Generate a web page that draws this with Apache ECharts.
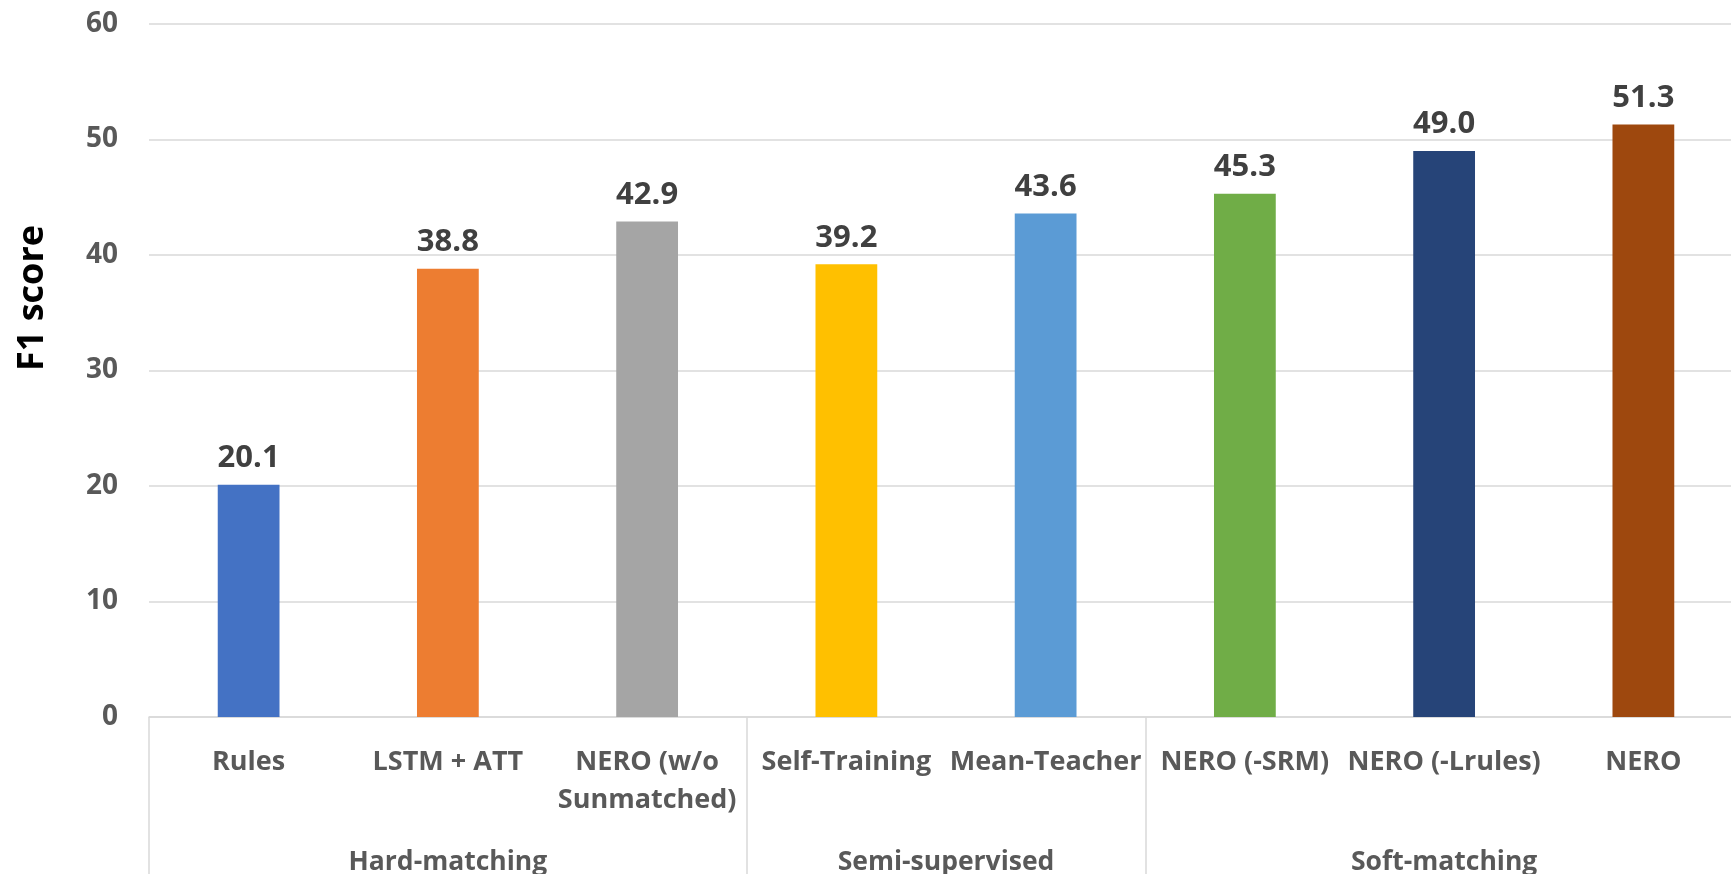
<!DOCTYPE html>
<html>
<head>
<meta charset="utf-8">
<script src="https://cdn.jsdelivr.net/npm/echarts@6/dist/echarts.min.js"></script>
<style>
html,body{margin:0;padding:0;background:#fff;}
#chart{width:1731px;height:874px;}
</style>
</head>
<body>
<div id="chart"></div>
<script>
// ---- data ----
const categories = ['Rules', 'LSTM + ATT', 'NERO (w/o\nSunmatched)', 'Self-Training', 'Mean-Teacher', 'NERO (-SRM)', 'NERO (-Lrules)', 'NERO'];
const values = [20.1, 38.8, 42.9, 39.2, 43.6, 45.3, 49.0, 51.3];
const barColors = ['#4472C4', '#ED7D31', '#A5A5A5', '#FFC000', '#5B9BD5', '#70AD47', '#264478', '#9E480E'];
const groupNames = ['Hard-matching', 'Semi-supervised', 'Soft-matching'];
const groupSizes = [3, 2, 3];
const yTicks = [0, 10, 20, 30, 40, 50, 60];
const yTitle = 'F1 score';

// group boundaries & centers (in category units)
const groupBounds = [0];
groupSizes.forEach(s => groupBounds.push(groupBounds[groupBounds.length - 1] + s));
const groupCenters = groupSizes.map((s, i) => groupBounds[i] + s / 2);

const FONT = "'Open Sans', 'Noto Sans', sans-serif";
const chart = echarts.init(document.getElementById('chart'), null, {renderer: 'canvas'});

const option = {
  backgroundColor: '#ffffff',
  animation: false,
  grid: {left: 149, right: -12, top: 24, bottom: 157, containLabel: false, outerBoundsMode: 'none'},
  xAxis: [
    {
      type: 'category',
      data: categories,
      position: 'bottom',
      axisLine: {show: true, lineStyle: {color: '#D9D9D9', width: 1.5}},
      axisTick: {show: false},
      axisLabel: {
        interval: 0, hideOverlap: false, margin: 26,
        fontFamily: FONT, fontSize: 27, fontWeight: 'bold', color: '#595959',
        lineHeight: 38, align: 'center'
      },
      splitLine: {show: false}
    },
    {
      type: 'value',
      min: 0, max: categories.length,
      position: 'bottom',
      offset: 0,
      axisLine: {show: false},
      axisTick: {show: true, customValues: groupBounds, length: 160, inside: false,
                 lineStyle: {color: '#D9D9D9', width: 1.5}},
      axisLabel: {
        show: true, customValues: groupCenters, margin: 132,
        fontFamily: FONT, fontSize: 26.5, fontWeight: 'bold', color: '#595959',
        formatter: function (v) {
          const i = groupCenters.findIndex(c => Math.abs(c - v) < 1e-6);
          return i >= 0 ? groupNames[i] : '';
        }
      },
      splitLine: {show: false}
    }
  ],
  yAxis: {
    type: 'value',
    min: yTicks[0], max: yTicks[yTicks.length - 1], interval: 10,
    axisLine: {show: false},
    axisTick: {show: false},
    axisLabel: {margin: 31, fontFamily: FONT, fontSize: 28, fontWeight: 'bold', color: '#595959'},
    splitLine: {show: true, lineStyle: {color: '#D9D9D9', width: 1.5}}
  },
  graphic: [{
    type: 'text',
    x: 33, y: 298,
    rotation: Math.PI / 2,
    style: {
      text: yTitle,
      fontFamily: FONT, fontSize: 36, fontWeight: 'bold',
      fill: '#000000', align: 'center', verticalAlign: 'middle'
    }
  }],
  series: [{
    type: 'bar',
    xAxisIndex: 0,
    barWidth: '31%',
    data: values.map((v, i) => ({value: v, itemStyle: {color: barColors[i]}})),
    label: {
      show: true, position: 'top', distance: 11,
      fontFamily: FONT, fontSize: 31, fontWeight: 'bold', color: '#404040',
      formatter: p => p.value.toFixed(1)
    }
  }]
};
chart.setOption(option);
</script>
</body>
</html>
